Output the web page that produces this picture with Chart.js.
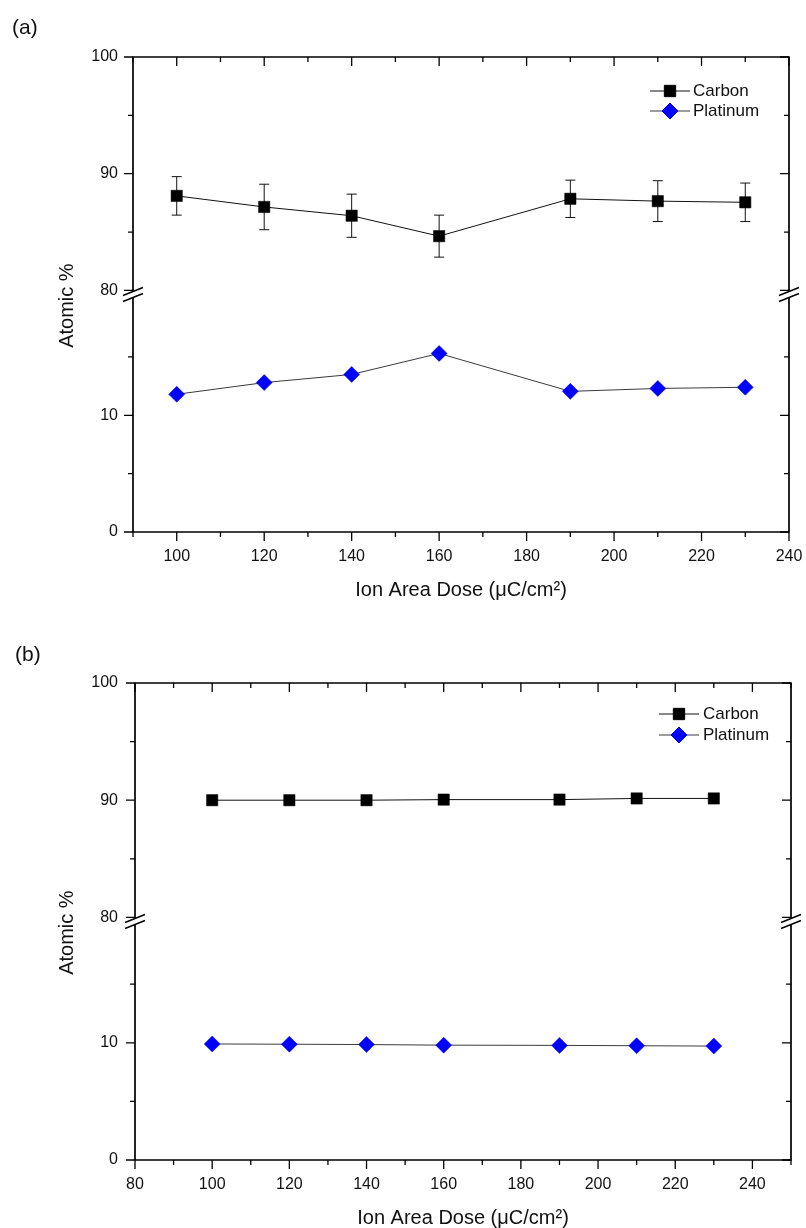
<!DOCTYPE html>
<html lang="en">
<head>
    <meta charset="UTF-8">
    <title>Atomic % vs Ion Area Dose</title>
    <script src="https://cdn.jsdelivr.net/npm/chart.js"></script>
    <style>
        * { margin: 0; padding: 0; box-sizing: border-box; }
        body {
            width: 806px;
            height: 1228px;
            background: #fff;
            position: relative;
            overflow: hidden;
            font-family: 'Liberation Sans', Arial, sans-serif;
        }
        .panel {
            position: absolute;
            left: 0;
            width: 806px;
            height: 614px;
        }
        .tag {
            position: absolute;
            font-size: 21px;
            line-height: 1;
            color: #111;
        }
    </style>
</head>
<body>
    <div class="panel" style="top:0"><canvas id="chartA"></canvas></div>
    <div class="panel" style="top:614px"><canvas id="chartB"></canvas></div>
    <div class="tag" style="left:12px; top:16px">(a)</div>
    <div class="tag" style="left:15px; top:643px">(b)</div>

    <script>
        // ---- data ----
        const seriesNames = ['Carbon', 'Platinum'];
        const doses = [100, 120, 140, 160, 190, 210, 230];

        // panel (a)
        const carbonA = [88.1, 87.15, 86.4, 84.65, 87.85, 87.65, 87.55];
        const carbonErrA = [1.65, 1.95, 1.85, 1.8, 1.6, 1.75, 1.65];
        const platinumA = [11.8, 12.8, 13.5, 15.3, 12.05, 12.3, 12.4];

        // panel (b)
        const carbonB = [90.0, 90.0, 90.0, 90.05, 90.05, 90.15, 90.15];
        const platinumB = [9.9, 9.88, 9.85, 9.8, 9.78, 9.75, 9.72];

        // axes
        const yTicks = [0, 10, 80, 90, 100];
        const yMinorTicks = [5, 15, 85, 95];
        const yBreak = [20, 80];      // hidden range of the broken axis
        const breakGap = 0.7;         // extra room at the break (axis units)
        const xTicksA = [100, 120, 140, 160, 180, 200, 220, 240];
        const xMinorA = [90, 110, 130, 150, 170, 190, 210, 230];
        const xTicksB = [80, 100, 120, 140, 160, 180, 200, 220, 240];
        const xMinorB = [90, 110, 130, 150, 170, 190, 210, 230, 250];

        const FONT = "'Liberation Sans', Arial, sans-serif";
        Chart.defaults.font.family = FONT;
        Chart.defaults.color = '#111';

        // linear scale with the 20..80 band cut out
        class BrokenScale extends Chart.LinearScale {
            fold(v) {
                return v <= yBreak[0] ? v : v - yBreak[1] + yBreak[0] + breakGap;
            }
            buildTicks() {
                return yTicks.map(v => ({ value: v }));
            }
            configure() {
                super.configure();
                this._startValue = this.fold(this.min);
                this._endValue = this.fold(this.max);
                this._valueRange = this._endValue - this._startValue;
            }
            getPixelForValue(v) {
                if (v === null || v === undefined) return NaN;
                return this.getPixelForDecimal((this.fold(v) - this._startValue) / this._valueRange);
            }
        }
        BrokenScale.id = 'broken';
        BrokenScale.defaults = Chart.LinearScale.defaults;
        Chart.register(BrokenScale);

        // frame, ticks (out on left/bottom, in on top/right) and break marks
        const axisDecor = {
            id: 'axisDecor',
            afterDraw(chart, args, o) {
                const { ctx, chartArea: a } = chart;
                const x = chart.scales.x, y = chart.scales.y;
                const brk = (y.getPixelForValue(yBreak[0]) + y.getPixelForValue(yBreak[1])) / 2;
                const g = 3;
                ctx.save();
                ctx.strokeStyle = '#000';
                ctx.lineWidth = 1.7;
                ctx.beginPath();
                ctx.moveTo(a.left - 0.8, a.top); ctx.lineTo(a.right + 0.8, a.top);
                ctx.moveTo(a.left - 0.8, a.bottom); ctx.lineTo(a.right + 0.8, a.bottom);
                for (const ex of [a.left, a.right]) {
                    ctx.moveTo(ex, a.top); ctx.lineTo(ex, brk - g);
                    ctx.moveTo(ex, brk + g); ctx.lineTo(ex, a.bottom);
                }
                ctx.stroke();

                ctx.lineWidth = 1.3;
                ctx.beginPath();
                const xt = (vals, len) => vals.forEach(v => {
                    const px = x.getPixelForValue(v);
                    ctx.moveTo(px, a.bottom); ctx.lineTo(px, a.bottom + len);
                    ctx.moveTo(px, a.top); ctx.lineTo(px, a.top + len);
                });
                const yt = (vals, len) => vals.forEach(v => {
                    const py = y.getPixelForValue(v);
                    ctx.moveTo(a.left, py); ctx.lineTo(a.left - len, py);
                    ctx.moveTo(a.right, py); ctx.lineTo(a.right - len, py);
                });
                xt(o.major, 9);
                xt(o.minor, 5);
                yt(yTicks, 9);
                yt(yMinorTicks, 5);
                ctx.stroke();

                ctx.lineWidth = 1.4;
                ctx.beginPath();
                for (const ex of [a.left, a.right]) {
                    for (const c of [brk - g, brk + g]) {
                        ctx.moveTo(ex - 10, c + 4);
                        ctx.lineTo(ex + 10, c - 4);
                    }
                }
                ctx.stroke();
                ctx.restore();
            }
        };

        const errorBars = {
            id: 'errorBars',
            beforeDatasetsDraw(chart) {
                const { ctx } = chart;
                const y = chart.scales.y;
                ctx.save();
                ctx.strokeStyle = '#111';
                ctx.lineWidth = 1;
                chart.data.datasets.forEach((ds, i) => {
                    if (!ds.errors) return;
                    chart.getDatasetMeta(i).data.forEach((pt, j) => {
                        const v = ds.data[j].y, e = ds.errors[j];
                        const y1 = y.getPixelForValue(v + e), y2 = y.getPixelForValue(v - e);
                        ctx.beginPath();
                        ctx.moveTo(pt.x, y1); ctx.lineTo(pt.x, y2);
                        ctx.moveTo(pt.x - 5, y1); ctx.lineTo(pt.x + 5, y1);
                        ctx.moveTo(pt.x - 5, y2); ctx.lineTo(pt.x + 5, y2);
                        ctx.stroke();
                    });
                });
                ctx.restore();
            }
        };

        const boxLegend = {
            id: 'boxLegend',
            afterDraw(chart, args, o) {
                const { ctx } = chart;
                ctx.save();
                ctx.font = '17px ' + FONT;
                ctx.textBaseline = 'middle';
                ctx.fillStyle = '#111';
                chart.data.datasets.forEach((ds, i) => {
                    const yy = o.y + i * o.dy;
                    ctx.strokeStyle = ds.borderColor;
                    ctx.lineWidth = 1;
                    ctx.beginPath();
                    ctx.moveTo(o.x0, yy); ctx.lineTo(o.x1, yy);
                    ctx.stroke();
                    ctx.fillStyle = ds.pointBackgroundColor;
                    ctx.strokeStyle = ds.pointBorderColor;
                    Chart.helpers.drawPoint(ctx, {
                        pointStyle: ds.pointStyle, radius: ds.pointRadius,
                        borderWidth: ds.pointBorderWidth, rotation: 0
                    }, (o.x0 + o.x1) / 2, yy);
                    ctx.fillStyle = '#111';
                    ctx.fillText(ds.label, o.tx, yy);
                });
                ctx.restore();
            }
        };

        function makeSets(carbon, platinum, carbonErr) {
            const pts = vals => doses.map((d, i) => ({ x: d, y: vals[i] }));
            return [
                {
                    label: seriesNames[0],
                    data: pts(carbon),
                    errors: carbonErr,
                    borderColor: '#111',
                    borderWidth: 1,
                    pointStyle: 'rect',
                    pointRadius: 8,
                    pointBackgroundColor: '#000',
                    pointBorderColor: '#000',
                    pointBorderWidth: 0.5,
                    tension: 0
                },
                {
                    label: seriesNames[1],
                    data: pts(platinum),
                    borderColor: '#3a3a3a',
                    borderWidth: 1,
                    pointStyle: 'rectRot',
                    pointRadius: 8,
                    pointBackgroundColor: '#0000ff',
                    pointBorderColor: '#0000e6',
                    pointBorderWidth: 0.5,
                    tension: 0
                }
            ];
        }

        function makeChart(id, cfg) {
            new Chart(document.getElementById(id), {
                type: 'line',
                data: { datasets: makeSets(cfg.carbon, cfg.platinum, cfg.err) },
                options: {
                    responsive: true,
                    maintainAspectRatio: false,
                    animation: false,
                    layout: { padding: { left: 0, top: cfg.top, right: cfg.right, bottom: 0 } },
                    plugins: {
                        legend: { display: false },
                        tooltip: { enabled: false },
                        axisDecor: { major: cfg.xTicks, minor: cfg.xMinor },
                        boxLegend: cfg.legend
                    },
                    scales: {
                        x: {
                            type: 'linear',
                            min: cfg.xMin,
                            max: cfg.xMax,
                            afterBuildTicks: s => { s.ticks = cfg.xTicks.map(v => ({ value: v })); },
                            afterFit: s => {
                                s.height = cfg.xHeight;
                                s.paddingLeft = 0;
                                s.paddingRight = 0;
                            },
                            grid: { display: false, drawTicks: false },
                            border: { display: false },
                            ticks: {
                                autoSkip: false, maxRotation: 0, padding: 15,
                                font: { size: 16 }, color: '#111',
                                callback: v => String(v)
                            },
                            title: {
                                display: true,
                                text: 'Ion Area Dose (\u03bcC/cm\u00b2)',
                                font: { size: 20, lineHeight: 1 },
                                color: '#111',
                                padding: { top: 0, bottom: cfg.xTitlePad }
                            }
                        },
                        y: {
                            type: 'broken',
                            min: 0,
                            max: 100,
                            afterFit: s => {
                                s.width = cfg.yWidth;
                                s.paddingTop = 0;
                                s.paddingBottom = 0;
                            },
                            grid: { display: false, drawTicks: false },
                            border: { display: false },
                            ticks: {
                                autoSkip: false, padding: cfg.yPad,
                                font: { size: 16 }, color: '#111',
                                callback: v => String(v)
                            },
                            title: {
                                display: true,
                                text: 'Atomic %\u00a0\u00a0\u00a0\u00a0',
                                font: { size: 20, lineHeight: 1 },
                                color: '#111',
                                padding: { top: 57, bottom: 0 }
                            }
                        }
                    }
                },
                plugins: [errorBars, axisDecor, boxLegend]
            });
        }

        makeChart('chartA', {
            carbon: carbonA, platinum: platinumA, err: carbonErrA,
            xMin: 90, xMax: 240, xTicks: xTicksA, xMinor: xMinorA,
            top: 57, right: 17, yWidth: 133, xHeight: 82, yPad: 15, xTitlePad: 14,
            legend: { x0: 650, x1: 690, tx: 693, y: 91, dy: 20 }
        });

        makeChart('chartB', {
            carbon: carbonB, platinum: platinumB, err: null,
            xMin: 80, xMax: 250, xTicks: xTicksB, xMinor: xMinorB,
            top: 69, right: 15, yWidth: 135, xHeight: 68, yPad: 17, xTitlePad: 0,
            legend: { x0: 659, x1: 699, tx: 703, y: 100, dy: 21 }
        });
    </script>
</body>
</html>
